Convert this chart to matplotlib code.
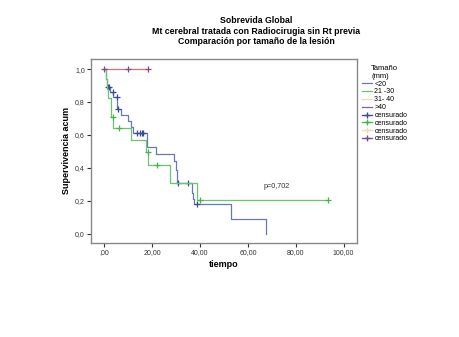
#!/usr/bin/env python3
"""Kaplan-Meier style survival curves by lesion size (SPSS look)."""

import numpy as np
import matplotlib
matplotlib.use("Agg")
import matplotlib.pyplot as plt
from matplotlib.lines import Line2D

# ---- data ----
blue_t = [0, 0.5, 1.0, 2.3, 3.8, 5.4, 7.0, 10.0, 11.1, 12.1, 18.0, 21.6,
          29.2, 29.8, 30.3, 36.5, 37.0, 37.5, 52.8, 67.4]
blue_s = [1.0, 0.94, 0.89, 0.86, 0.83, 0.76, 0.72, 0.686, 0.65, 0.613, 0.526,
          0.482, 0.44, 0.39, 0.31, 0.25, 0.21, 0.182, 0.091, 0.0]
blue_cens = [1.4, 2.0, 3.5, 5.2, 5.8, 13.8, 14.9, 15.6, 16.3, 30.9, 35.0, 38.9]

green_t = [0, 0.5, 1.0, 1.5, 2.9, 3.8, 11.0, 17.4, 18.4, 27.4, 38.9, 93.6]
green_s = [1.0, 0.94, 0.88, 0.822, 0.706, 0.644, 0.571, 0.498, 0.417, 0.31,
           0.208, 0.208]
green_cens = [3.5, 6.3, 18.1, 21.9, 40.0, 93.6]

red_t = [0, 18.4]
red_s = [1.0, 1.0]
red_cens = [0, 9.7, 18.4]

legend_labels = ["<20", "21 -30", "31- 40", ">40",
                 "censurado", "censurado", "censurado", "censurado"]
x_ticks = [0, 20, 40, 60, 80, 100]
y_ticks = [0.0, 0.2, 0.4, 0.6, 0.8, 1.0]

BLUE, BLUE_M = "#6a78b0", "#3c4a8e"
GREEN, GREEN_M = "#6cc46c", "#4caf50"
BEIGE = "#e8dfa8"
RED, RED_M = "#d87070", "#7a4a8a"


def step_value(t, ts, ss):
    idx = np.searchsorted(ts, t, side="right") - 1
    return np.asarray(ss)[idx]


plt.rcParams["font.family"] = "Liberation Sans"
fig = plt.figure(figsize=(4.59, 3.37), dpi=100)
ax = fig.add_axes([91 / 459, 1 - 243 / 337, 266 / 459, 184 / 337])

for ts, ss, cens, lc, mc in [(blue_t, blue_s, blue_cens, BLUE, BLUE_M),
                             (green_t, green_s, green_cens, GREEN, GREEN_M),
                             (red_t, red_s, red_cens, RED, RED_M)]:
    ax.step(ts, ss, where="post", color=lc, linewidth=0.9)
    cy = [step_value(c, ts, ss) for c in cens]
    ax.plot(cens, cy, linestyle="none", marker="+", markersize=4,
            markeredgewidth=0.9, color=mc)

ax.text(66.4, 0.29, "p=0,702", fontsize=5.2, color="#333333",
        ha="left", va="center")

ax.set_xlim(-5.6, 105.6)
ax.set_ylim(-0.056, 1.061)
ax.set_xticks(x_ticks)
ax.set_xticklabels([",00" if v == 0 else f"{v},00" for v in x_ticks])
ax.set_yticks(y_ticks)
ax.set_yticklabels([f"{v:.1f}".replace(".", ",") for v in y_ticks])
ax.tick_params(length=3, width=0.8, colors="#333333", labelsize=5, pad=1.5)
for sp in ax.spines.values():
    sp.set_color("#888888")
    sp.set_linewidth(1.0)

ax.set_xlabel("tiempo", fontsize=6.5, fontweight="bold", labelpad=3)
ax.set_ylabel("Supervivencia acum", fontsize=6.5, fontweight="bold",
              labelpad=3)

fig.text(256 / 459, 1 - 31 / 337,
         "Sobrevida Global\nMt cerebral tratada con Radiocirugia sin Rt previa"
         "\nComparación por tamaño de la lesión",
         ha="center", va="center", fontsize=6.3, fontweight="bold",
         linespacing=1.25)

handles = [Line2D([], [], color=c, linewidth=0.9)
           for c in [BLUE, GREEN, BEIGE, "#8a5a9a"]]
handles += [Line2D([], [], color=c, marker="+", markersize=4, linewidth=0.9)
            for c in [BLUE_M, GREEN_M, BEIGE, RED_M]]
leg = fig.legend(handles, legend_labels, title="Tamaño\n(mm)",
                 loc="upper left", bbox_to_anchor=(359 / 459, 1 - 62 / 337),
                 frameon=False, fontsize=5, title_fontsize=5.5,
                 handlelength=1.4, handletextpad=0.4, labelspacing=0.12,
                 borderaxespad=0)

fig.savefig("out.png", dpi=100, facecolor="white")
